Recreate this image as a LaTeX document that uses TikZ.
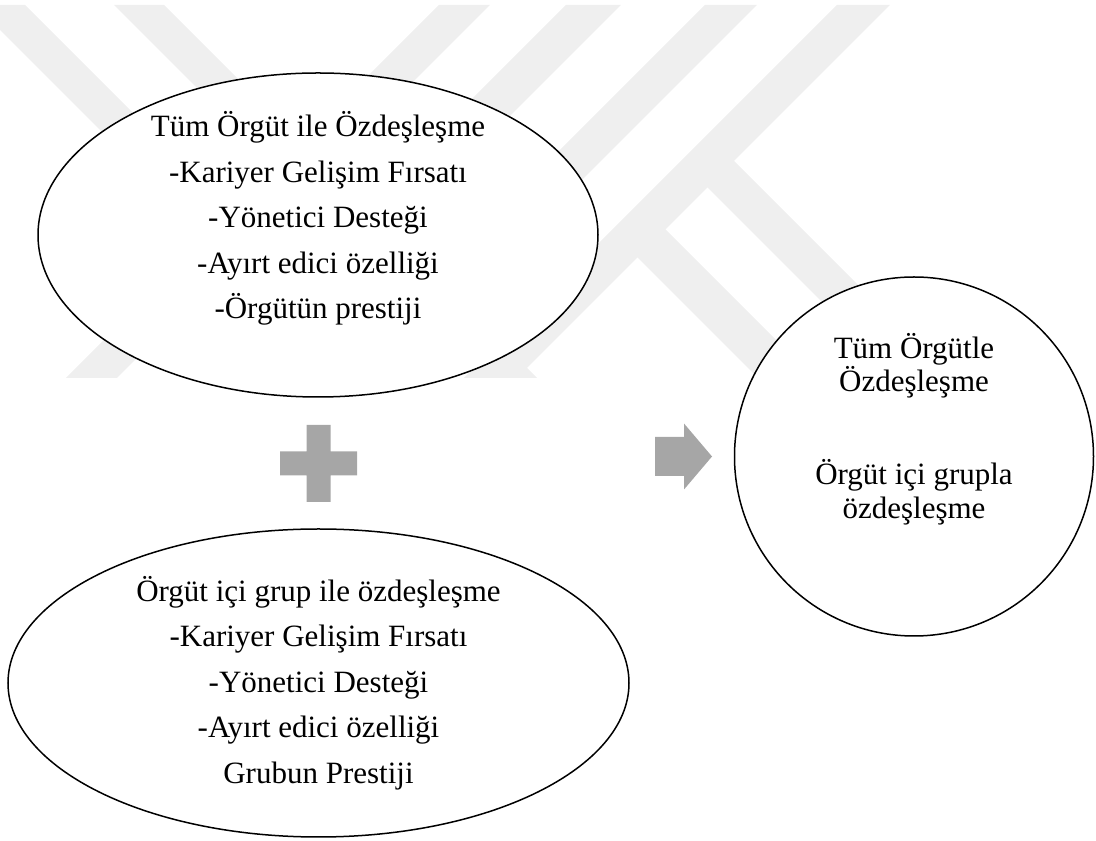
\documentclass[tikz,border=0pt]{standalone}
\usepackage{fontspec}
\setmainfont{Liberation Serif}
\usetikzlibrary{shapes.geometric,calc}
\definecolor{wmark}{HTML}{EFEFEF}
\definecolor{symgray}{HTML}{A6A6A6}

\begin{document}
\begin{tikzpicture}[x=1pt, y=1pt,
    oval/.style={ellipse, draw, line width=1.5pt, fill=white, inner sep=0pt},
    ring/.style={circle, draw, line width=1.5pt, fill=white, inner sep=0pt, minimum size=359pt},
    listtext/.style={align=center, font=\fontsize{31}{45.5}\selectfont},
    ringtext/.style={align=center, font=\fontsize{31}{33.5}\selectfont},
    symbol/.style={fill=symgray}
  ]
  \useasboundingbox (0,0) rectangle (1096,841);

  % background watermark
  \foreach \a/\w in {439/51, 566/55, 705/52, 837/53}
    \fill[wmark] (\a,836) -- (\a+\w,836) -- (\a+\w-373,463) -- (\a-373,463) -- cycle;
  \foreach \a in {-25, 114}
    \fill[wmark] (\a,836) -- (\a+50,836) -- (\a+423,463) -- (\a+373,463) -- cycle;
  \fill[wmark] (728.5,685.5) -- (702,659) -- (898,463) -- (951,463) -- cycle;
  \fill[wmark] (660,617) -- (632,589) -- (758,463) -- (814,463) -- cycle;

  \node[oval, minimum width=560pt, minimum height=324pt] (orgut) at (318,606) {};
  \node[listtext] (orgutyazi) at ($(orgut.center)+(0,16.5)$)
    {Tüm Örgüt ile Özdeşleşme\\-Kariyer Gelişim Fırsatı\\-Yönetici Desteği\\-Ayırt edici özelliği\\-Örgütün prestiji};

  \node[oval, minimum width=621pt, minimum height=308pt] (grup) at (318.5,158) {};
  \node[listtext] (grupyazi) at (grup.center)
    {Örgüt içi grup ile özdeşleşme\\-Kariyer Gelişim Fırsatı\\-Yönetici Desteği\\-Ayırt edici özelliği\\Grubun Prestiji};

  \node[ring] (sonuc) at (914,384.5) {};
  \node[ringtext] (sonucyazi) at ($(sonuc.center)+(0,27.5)$)
    {Tüm Örgütle\\Özdeşleşme\\[59.5pt]Örgüt içi grupla\\özdeşleşme};

  % plus and arrow
  \coordinate (arti) at (318.5,377.5);
  \fill[symbol, shift={(arti)}] (-12,38.5) -- (12,38.5) -- (12,12) -- (38.5,12) -- (38.5,-12)
    -- (12,-12) -- (12,-38.5) -- (-12,-38.5) -- (-12,-12) -- (-38.5,-12) -- (-38.5,12) -- (-12,12) -- cycle;
  \coordinate (ok) at (655,384.5);
  \fill[symbol, shift={(ok)}] (0,19.5) -- (29,19.5) -- (29,33) -- (57,0) -- (29,-33) -- (29,-19.5) -- (0,-19.5) -- cycle;
\end{tikzpicture}
\end{document}
